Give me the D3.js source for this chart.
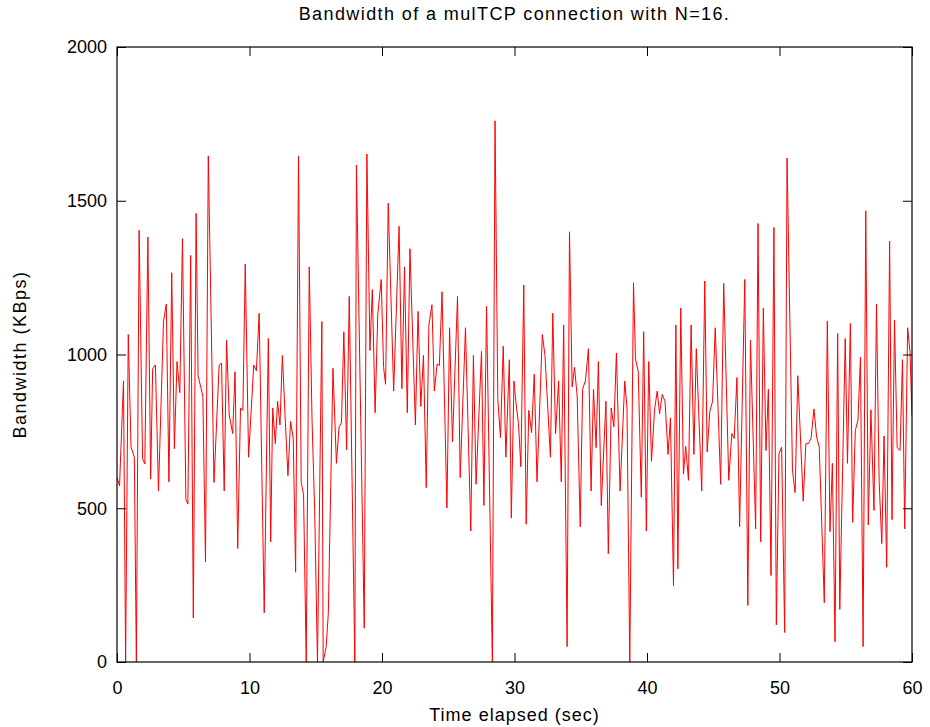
<!DOCTYPE html>
<html><head><meta charset="utf-8">
<script src="https://cdn.jsdelivr.net/npm/d3@7"></script>
<style>body{margin:0;background:#fff}svg{display:block}text{font-family:"Liberation Sans",Arial,sans-serif;fill:#000}</style>
</head><body><svg id="c" width="930" height="727"></svg>
<script>
const title = "Bandwidth of a mulTCP connection with N=16.";
const xLabel = "Time elapsed (sec)";
const yLabel = "Bandwidth (KBps)";
const xTicks = [0,10,20,30,40,50,60];
const yTicks = [0,500,1000,1500,2000];
const time = [0,0.19,0.49,0.65,0.85,1.06,1.31,1.46,1.67,1.93,2.10,2.33,2.54,2.69,2.90,3.13,3.51,3.72,3.92,4.13,4.33,4.53,4.74,4.94,5.20,5.35,5.56,5.76,5.97,
6.12,6.48,6.68,6.89,7.32,7.71,7.89,8.09,8.27,8.47,8.73,8.91,9.11,9.32,9.50,9.68,9.93,10.32,10.52,10.73,11.11,11.42,11.60,
11.75,11.95,12.12,12.30,12.48,12.70,12.90,13.10,13.30,13.48,13.70,13.90,14.08,14.28,14.51,14.72,14.92,15.13,15.46,15.56,15.79,15.95,16.30,16.56,16.76,16.94,17.12,17.33,17.53,17.95,
18.07,18.66,18.86,19.09,19.27,19.48,19.68,19.94,20.12,20.27,20.47,20.88,21.29,21.50,21.70,21.91,22.11,22.52,22.72,22.93,23.13,23.34,23.54,23.77,23.95,24.16,
24.33,24.53,24.90,25.10,25.32,25.70,25.90,26.30,26.70,26.90,27.10,27.51,27.69,27.89,28.33,28.53,28.74,28.94,29.15,29.35,29.61,29.76,29.96,30.12,
30.30,30.48,30.70,30.88,31.08,31.29,31.49,31.70,32.10,32.30,32.71,32.89,33.10,33.33,33.53,33.71,33.97,34.15,34.35,34.53,34.73,34.96,35.14,35.35,35.58,35.78,35.96,36.16,
36.33,36.55,36.90,37.08,37.30,37.50,37.69,37.97,38.32,38.49,38.70,38.98,39.13,39.34,39.57,39.75,39.95,40.13,40.34,40.57,40.77,40.95,41.15,41.36,41.59,41.77,42.00,42.18,
42.33,42.55,42.75,42.92,43.13,43.33,43.54,43.72,44.13,44.36,44.54,44.74,44.95,45.15,45.56,45.79,46.17,46.40,46.58,46.79,46.99,47.38,47.61,47.81,48.20,
48.38,48.58,48.78,48.98,49.16,49.36,49.58,49.76,49.96,50.16,50.39,50.57,50.98,51.18,51.38,51.79,51.99,52.17,52.38,52.60,52.80,53.00,53.38,53.61,53.81,53.99,54.19,54.39,
54.55,54.96,55.13,55.35,55.52,55.72,55.92,56.11,56.31,56.51,56.70,56.90,57.13,57.32,57.52,57.72,57.89,58.09,58.31,58.49,58.68,58.88,59.10,59.28,59.45,59.67,59.85,60.0];
const bandwidth = [600,573,914,0,1065,699,666,0,1404,661,644,1382,595,953,966,556,1107,1164,586,1266,694,977,876,1377,529,514,1322,143,1459,
931,865,325,1646,584,966,972,556,1046,804,743,944,369,826,818,1294,666,966,947,1134,160,1052,391,
826,710,848,771,997,787,606,782,727,292,1646,584,545,0,1285,787,490,0,1107,0,50,160,955,646,765,778,1074,690,1189,0,
1616,110,1652,1013,1211,811,1129,1244,958,903,1492,881,1417,889,1285,811,1344,771,1140,831,997,567,1096,1162,881,969,
964,1204,501,1087,716,1189,600,1087,426,997,578,1010,509,1156,0,1760,854,730,1027,666,983,468,914,840,
776,635,1226,448,818,746,936,586,1065,997,666,1134,743,914,586,1096,50,1399,895,958,865,440,887,914,1019,556,887,697,
977,509,848,352,826,765,1005,556,914,826,0,1233,986,944,536,1074,426,977,653,820,881,807,870,848,675,794,248,1096,
303,1151,611,701,591,1096,675,1019,556,1239,683,815,848,1087,578,1231,591,743,727,925,440,1244,184,1046,433,
1426,391,1151,688,887,281,1413,121,677,699,96,1639,622,551,931,523,710,710,727,823,732,699,193,1109,424,646,66,1068,
171,1052,646,1101,454,752,787,991,50,1467,446,820,493,1164,589,385,735,308,1369,463,1112,697,688,983,433,1087,1008,800];

const m = {left:117, right:912, top:47, bottom:662};
const svg = d3.select("#c");
const x = d3.scaleLinear().domain([0,60]).range([m.left, m.right]);
const y = d3.scaleLinear().domain([0,2000]).range([m.bottom, m.top]);

svg.append("defs").append("clipPath").attr("id","clip").append("rect")
  .attr("x", m.left).attr("y", m.top).attr("width", m.right-m.left).attr("height", m.bottom-m.top);

const pts = time.map((t,i)=>[t, bandwidth[i]]);
svg.append("path").datum(pts)
  .attr("clip-path","url(#clip)")
  .attr("fill","none").attr("stroke","#ff0000").attr("stroke-width",1)
  .attr("d", d3.line().x(d=>x(d[0])).y(d=>y(d[1])));

const tl = 9;
const fs = 18;
const gB = svg.append("g").attr("transform",`translate(0,${m.bottom})`)
  .call(d3.axisBottom(x).tickValues(xTicks).tickSize(-tl).tickPadding(19).tickFormat(d3.format("d")));
const gT = svg.append("g").attr("transform",`translate(0,${m.top})`)
  .call(d3.axisTop(x).tickValues(xTicks).tickSize(-tl).tickFormat(""));
const gL = svg.append("g").attr("transform",`translate(${m.left},0)`)
  .call(d3.axisLeft(y).tickValues(yTicks).tickSize(-tl).tickPadding(10).tickFormat(d3.format("d")));
const gR = svg.append("g").attr("transform",`translate(${m.right},0)`)
  .call(d3.axisRight(y).tickValues(yTicks).tickSize(-tl).tickFormat(""));
[gB,gT,gL,gR].forEach(g=>{
  g.select(".domain").remove();
  g.selectAll("line").attr("stroke","#000").attr("stroke-width",1);
  g.selectAll("text").attr("font-size",fs).attr("font-family","Liberation Sans, Arial, sans-serif");
});
svg.append("rect").attr("x",m.left).attr("y",m.top).attr("width",m.right-m.left).attr("height",m.bottom-m.top)
  .attr("fill","none").attr("stroke","#000").attr("stroke-width",1.2);

svg.append("text").attr("x",(m.left+m.right)/2).attr("y",20).attr("text-anchor","middle")
  .attr("font-size",fs).attr("letter-spacing",1.4).text(title);
svg.append("text").attr("x",(m.left+m.right)/2).attr("y",721).attr("text-anchor","middle")
  .attr("font-size",fs).attr("letter-spacing",1).text(xLabel);
svg.append("text").attr("transform",`translate(26,${(m.top+m.bottom)/2}) rotate(-90)`).attr("text-anchor","middle")
  .attr("font-size",fs).attr("letter-spacing",1.5).text(yLabel);
</script></body></html>
